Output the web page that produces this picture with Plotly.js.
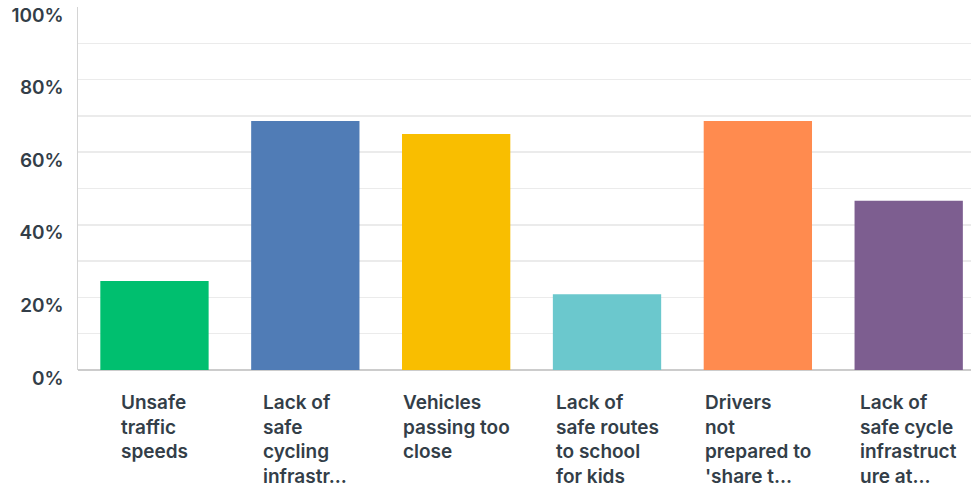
<!DOCTYPE html>
<html>
<head>
<meta charset="utf-8">
<script src="https://cdn.plot.ly/plotly-3.0.1.min.js"></script>
<style>html,body{margin:0;padding:0;background:#fff;}#chart{width:971px;height:489px;}</style>
</head>
<body>
<div id="chart"></div>
<script>
const categories = ["Unsafe traffic speeds", "Lack of safe cycling infrastr...", "Vehicles passing too close", "Lack of safe routes to school for kids", "Drivers not prepared to 'share t...", "Lack of safe cycle infrastructure at..."];
const labelLines = [
  ["Unsafe", "traffic", "speeds"],
  ["Lack of", "safe", "cycling", "infrastr..."],
  ["Vehicles", "passing too", "close"],
  ["Lack of", "safe routes", "to school", "for kids"],
  ["Drivers", "not", "prepared to", "'share t..."],
  ["Lack of", "safe cycle", "infrastruct", "ure at..."]
];
const values = [24.5, 68.6, 65.0, 20.9, 68.6, 46.6];
const colors = ["#00bf6f", "#507cb6", "#f9be00", "#6bc8cd", "#ff8b4f", "#7d5e90"];
const yTicks = [0, 20, 40, 60, 80, 100];
const yTickText = ["0%", "20%", "40%", "60%", "80%", "100%"];

const xIdx = categories.map((c, i) => i);
const trace = {
  type: "bar",
  x: xIdx,
  y: values,
  marker: {color: colors},
  hoverinfo: "none"
};
const textFont = {family: "Inter, 'Open Sans', sans-serif", size: 19, color: "#333e48", weight: 600};
const annotations = labelLines.map((lines, i) => ({
  x: xIdx[i], xref: "x", y: 0, yref: "paper",
  xanchor: "center", yanchor: "top", yshift: -19,
  align: "left", showarrow: false,
  text: lines.join("<br>"),
  font: textFont
}));
const layout = {
  width: 971, height: 489,
  margin: {l: 78, r: 0, t: 7, b: 119},
  paper_bgcolor: "#fff", plot_bgcolor: "#fff",
  showlegend: false,
  bargap: 0.282,
  xaxis: {
    type: "linear",
    range: [-0.507, 5.413],
    showticklabels: false, showgrid: false, zeroline: false,
    showline: false, fixedrange: true
  },
  yaxis: {
    range: [0, 100],
    tickvals: yTicks, ticktext: yTickText,
    tickfont: textFont,
    ticklabelstandoff: 9,
    ticklabelshift: 8,
    showgrid: true, gridcolor: "#ebebeb", gridwidth: 1.5,
    minor: {dtick: 10, showgrid: true, gridcolor: "#ebebeb", gridwidth: 1.5},
    zeroline: true, zerolinecolor: "#cccccc", zerolinewidth: 2,
    showline: true, linecolor: "#d4d4d4", linewidth: 1.5,
    ticks: "", fixedrange: true
  },
  annotations: annotations
};
Plotly.newPlot("chart", [trace], layout, {displayModeBar: false, staticPlot: true});
</script>
</body>
</html>
